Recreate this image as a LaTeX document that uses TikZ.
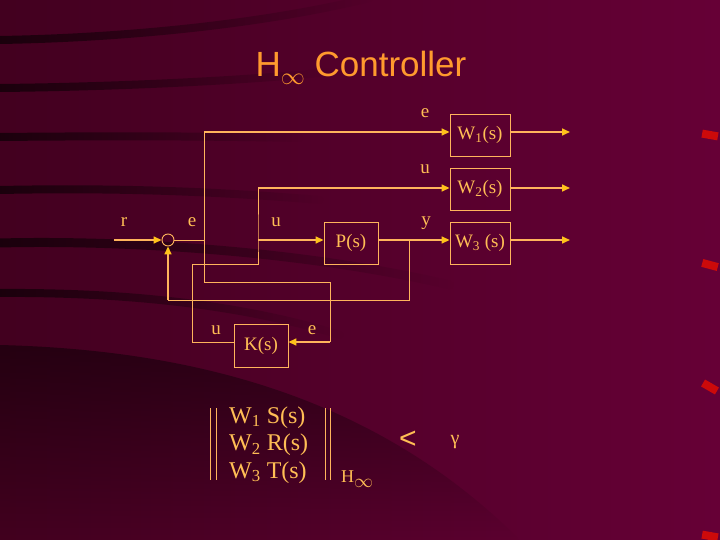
\RequirePackage{fix-cm}
\documentclass[tikz,border=0pt]{standalone}
\usepackage{fontspec}
\setmainfont{Liberation Serif}
\newfontfamily\titlefont{Liberation Sans}
\usetikzlibrary{arrows.meta,positioning,calc,fadings}

\definecolor{bgleft}{HTML}{42001F}
\definecolor{bgright}{HTML}{660036}
\definecolor{wire}{HTML}{FFB45C}
\definecolor{tipcol}{HTML}{FFC21A}
\definecolor{lblcol}{HTML}{FFBE55}
\definecolor{ttlcol}{HTML}{FF9A2E}
\definecolor{markcol}{HTML}{CC0A0A}

\begin{document}
\begin{tikzpicture}[x=1pt, y=-1pt, >={Triangle[length=8pt,width=7pt,color=tipcol]},
  wireline/.style={draw=wire, line width=0.9pt},
  sig/.style={draw=wire, line width=1.6pt, ->},
  blk/.style={draw=wire, line width=0.9pt, minimum width=54pt, minimum height=42pt,
    inner sep=0pt, text=lblcol, font=\fontsize{19}{21}\selectfont},
  lab/.style={text=lblcol, font=\fontsize{19}{21}\selectfont, inner sep=0pt},
  streak/.style={black, opacity=0.6, line cap=round, path fading=east}]

% Background
\useasboundingbox (0,0) rectangle (720,540);
\shade[left color=bgleft, right color=bgright] (0,0) rectangle (720,540);
\fill[black, opacity=0.45, path fading=south] (0,345) .. controls (200,350) and (380,400) .. (520,540) -- (0,540) -- cycle;
\draw[streak, line width=8pt] (0,40) .. controls (120,38) and (260,25) .. (370,-2);
\draw[streak, line width=8pt] (0,88) .. controls (100,87) and (230,82) .. (330,72);
\draw[streak, line width=8pt] (0,137) .. controls (100,136) and (200,136) .. (300,138);
\draw[streak, line width=8pt] (0,190) .. controls (100,188) and (200,190) .. (320,200);
\draw[streak, line width=9pt] (0,243) .. controls (120,240) and (300,250) .. (450,285);
\draw[streak, line width=8pt] (0,293) .. controls (150,292) and (260,310) .. (340,335);
\foreach \y/\a in {135/-10, 265/-15, 387/-30, 536/-10} {
  \fill[markcol, rotate around={\a:(710,\y)}] (702,\y-4) rectangle (718,\y+4);
}

% Title
\node[anchor=base, text=ttlcol, font=\titlefont\fontsize{35}{38}\selectfont] (title) at (361,77)
  {H\raisebox{-8pt}{\fontsize{24}{24}\selectfont$\infty$}\ Controller};

% Blocks
\node[draw=wire, circle, minimum size=12pt, inner sep=0pt, line width=0.9pt] (sum) at (168,240) {};
\node[blk] (P) at (351,243) {P(s)};
\node[blk, minimum height=43pt] (K) at (261,345.5) {K(s)};
\node[blk, minimum width=60pt] (W1) at (480,135) {W\textsubscript{1}(s)};
\node[blk, minimum width=60pt] (W2) at (480,189) {W\textsubscript{2}(s)};
\node[blk, minimum width=60pt] (W3) at (480,243) {W\textsubscript{3} (s)};

% Junctions and corners
\coordinate (rin) at (114,240);
\coordinate (ej) at (204,240);
\coordinate (etop) at (204,132);
\coordinate (ke) at (330,342);
\coordinate (uj) at (258,240);
\coordinate (utop) at (258,188);
\coordinate (yj) at (409,240);
\coordinate (fb) at (168,300);
\coordinate (out1) at (570,132);
\coordinate (out2) at (570,188);
\coordinate (out3) at (570,240);

% Signal lines
\draw[sig] (rin) -- (sum);
\draw[wireline] (sum) -- (ej) -- (etop);
\draw[sig] (etop) -- (etop -| W1.west);
\draw[wireline] (ej) -- (204,282) -- (330,282) -- (ke);
\draw[sig] (ke) -- (ke -| K.east);
\draw[wireline] (ke -| K.west) -- (192,342) -- (192,264) -- (258,264) -- (uj) -- (utop);
\draw[sig] (utop) -- (utop -| W2.west);
\draw[sig] (uj) -- (uj -| P.west);
\draw[sig] (yj -| P.east) -- (yj -| W3.west);
\draw[wireline] (yj) -- (409,300) -- (fb);
\draw[sig] (fb) -- (sum);
\draw[sig] (out1 -| W1.east) -- (out1);
\draw[sig] (out2 -| W2.east) -- (out2);
\draw[sig] (out3 -| W3.east) -- (out3);

% Signal labels
\node[lab] (lr) at (124,222) {r};
\node[lab] (le) at (192,222) {e};
\node[lab] (lu) at (276,222) {u};
\node[lab] (ly) at (426,223) {y};
\node[lab] (le1) at (425,113) {e};
\node[lab] (lu2) at (425,169) {u};
\node[lab] (lku) at (216,330) {u};
\node[lab] (lke) at (312,330) {e};

% Norm bound
\node[lab, anchor=west, align=left, font=\fontsize{24}{27.5}\selectfont] (norm) at (229,445)
  {W\textsubscript{1} S(s)\\W\textsubscript{2} R(s)\\W\textsubscript{3} T(s)};
\foreach \x in {210,216,325,330} \draw[wireline] (\x,408) -- (\x,480);
\node[lab, anchor=base west, font=\fontsize{18}{19}\selectfont] (hinf) at (341,482)
  {H\raisebox{-5pt}{\fontsize{19}{19}\selectfont$\infty$}};
\node[lab, font=\titlefont\fontsize{30}{30}\selectfont] (lt) at (408,440) {<};
\node[lab, font=\fontsize{20}{20}\selectfont] (gam) at (455,442) {γ};

\end{tikzpicture}
\end{document}
